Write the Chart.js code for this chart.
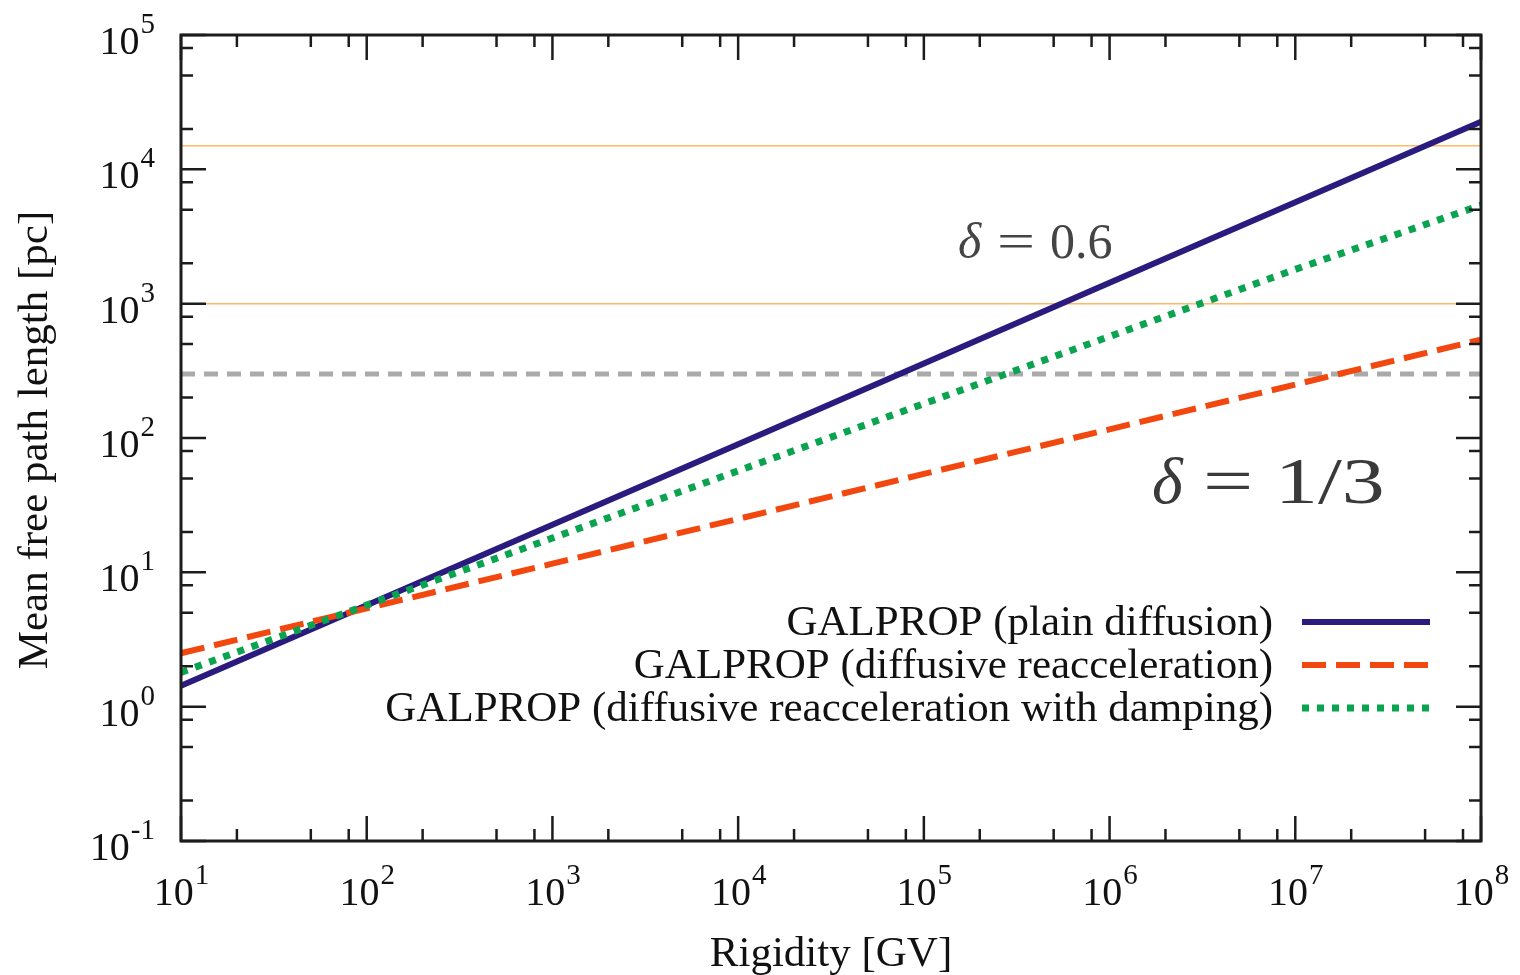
<!DOCTYPE html>
<html>
<head>
<meta charset="utf-8">
<script src="https://cdn.jsdelivr.net/npm/chart.js@4.4.0/dist/chart.umd.min.js"></script>
<style>
  body { margin: 0; background: #fff; }
  canvas { display: block; }
</style>
</head>
<body>
<canvas id="graphic" width="1520" height="975"></canvas>
<script>
// rigidity values [GV] where the curves were read
const rigidity = [1e1, 1e2, 1e3, 1e4, 1e5, 1e6, 1e7, 1e8]

// mean free path [pc]
const plainDiffusion = [1.43, 5.7, 22.6, 90, 358, 1430, 5700, 22600]
const reacceleration = [2.5, 5.4, 11.6, 25, 54, 116, 250, 540]
const reaccDamping = [1.8, 5.7, 18, 57, 180, 570, 1800, 5400]

// horizontal reference levels [pc]
const orangeLevels = [15000, 1000]
const grayLevel = 300

const xExps = [1, 2, 3, 4, 5, 6, 7, 8]
const yExps = [-1, 0, 1, 2, 3, 4, 5]
const minorSteps = [2, 5, 8]

const legendLabels = [
    "GALPROP (plain diffusion)",
    "GALPROP (diffusive reacceleration)",
    "GALPROP (diffusive reacceleration with damping)",
]

let blue = "#2c1b7e"
let red = "#f2480f"
let green = "#0aa34f"
let orange = "#ffb866"
let gray = "#aaaaaa"
let axisColor = "#1c1c1c"

let redDash = [24, 10]
let greenDash = [7, 8]

function pts(ys) {
    return rigidity.map((x, i) => ({ x: x, y: ys[i] }))
}
function flat(v) {
    return [{ x: rigidity[0], y: v }, { x: rigidity[rigidity.length - 1], y: v }]
}

const serif = "'Liberation Serif', 'DejaVu Serif', serif"

// draws text stretched horizontally (mimics the wider TeX glyphs)
function wideText(ctx, txt, x, y, sx) {
    ctx.save()
    ctx.translate(x, y)
    ctx.scale(sx, 1)
    ctx.fillText(txt, 0, 0)
    ctx.restore()
}

const framePlugin = {
    id: "frame",
    afterDraw(chart) {
        const ctx = chart.ctx
        const xs = chart.scales.x
        const ys = chart.scales.y
        const a = chart.chartArea
        ctx.save()
        ctx.strokeStyle = axisColor
        ctx.lineWidth = 3
        ctx.strokeRect(a.left, a.top, a.right - a.left, a.bottom - a.top)

        // ticks on all four sides, pointing inward
        ctx.lineWidth = 2.5
        ctx.beginPath()
        xExps.forEach(function (e, i) {
            let px = xs.getPixelForValue(Math.pow(10, e))
            ctx.moveTo(px, a.bottom); ctx.lineTo(px, a.bottom - 25)
            ctx.moveTo(px, a.top); ctx.lineTo(px, a.top + 25)
            if (i < xExps.length - 1) {
                minorSteps.forEach(function (m) {
                    let mx = xs.getPixelForValue(m * Math.pow(10, e))
                    ctx.moveTo(mx, a.bottom); ctx.lineTo(mx, a.bottom - 12)
                    ctx.moveTo(mx, a.top); ctx.lineTo(mx, a.top + 12)
                })
            }
        })
        yExps.forEach(function (e, i) {
            let py = ys.getPixelForValue(Math.pow(10, e))
            ctx.moveTo(a.left, py); ctx.lineTo(a.left + 25, py)
            ctx.moveTo(a.right, py); ctx.lineTo(a.right - 25, py)
            if (i < yExps.length - 1) {
                minorSteps.forEach(function (m) {
                    let my = ys.getPixelForValue(m * Math.pow(10, e))
                    ctx.moveTo(a.left, my); ctx.lineTo(a.left + 12, my)
                    ctx.moveTo(a.right, my); ctx.lineTo(a.right - 12, my)
                })
            }
        })
        ctx.stroke()

        // tick labels 10^n
        ctx.fillStyle = "#111"
        ctx.textBaseline = "alphabetic"
        const baseFont = "40px " + serif
        const supFont = "29px " + serif
        function labelWidth(e) {
            ctx.font = baseFont
            let w1 = ctx.measureText("10").width
            ctx.font = supFont
            let w2 = ctx.measureText(String(e)).width
            return [w1, w2]
        }
        function drawLabel(e, left, base) {
            let w = labelWidth(e)
            ctx.font = baseFont
            ctx.fillText("10", left, base)
            ctx.font = supFont
            ctx.fillText(String(e), left + w[0] + 1, base - 21)
        }
        xExps.forEach(function (e) {
            let px = xs.getPixelForValue(Math.pow(10, e))
            let w = labelWidth(e)
            drawLabel(e, px - (w[0] + w[1]) / 2, a.bottom + 64)
        })
        yExps.forEach(function (e) {
            let py = ys.getPixelForValue(Math.pow(10, e))
            let w = labelWidth(e)
            drawLabel(e, 155 - (w[0] + w[1] + 1), py + 19)
        })

        // axis titles
        ctx.font = "43px " + serif
        ctx.textAlign = "center"
        ctx.fillText("Rigidity [GV]", (a.left + a.right) / 2, 966)
        ctx.save()
        ctx.translate(47, 440)
        ctx.rotate(-Math.PI / 2)
        ctx.fillText("Mean free path length [pc]", 0, 0)
        ctx.restore()

        // legend
        const rows = [
            { c: blue, d: [], w: 6 },
            { c: red, d: redDash, w: 6 },
            { c: green, d: greenDash, w: 7 },
        ]
        ctx.font = "43px " + serif
        ctx.textAlign = "right"
        rows.forEach(function (r, i) {
            let y = 622 + i * 43
            ctx.fillStyle = "#111"
            ctx.fillText(legendLabels[i], 1273, y + 13)
            ctx.strokeStyle = r.c
            ctx.lineWidth = r.w
            ctx.lineCap = "butt"
            ctx.setLineDash(r.d)
            ctx.beginPath()
            ctx.moveTo(1302, y)
            ctx.lineTo(1430, y)
            ctx.stroke()
        })
        ctx.setLineDash([])

        // slope annotations
        ctx.textAlign = "left"
        ctx.fillStyle = "#444"
        ctx.font = "italic 50px " + serif
        ctx.fillText("\u03b4", 958, 258)
        ctx.font = "50px " + serif
        wideText(ctx, "=", 997, 258, 1.35)
        wideText(ctx, "0.6", 1050, 258, 1.0)

        ctx.fillStyle = "#3a3a3a"
        ctx.font = "italic 66px " + serif
        ctx.fillText("\u03b4", 1152, 503)
        ctx.font = "66px " + serif
        wideText(ctx, "=", 1203, 503, 1.35)
        wideText(ctx, "1/3", 1275, 503, 1.3)
        ctx.restore()
    },
}

const chartID = document.getElementById("graphic").getContext("2d")
let graphic = new Chart(chartID, {
    type: "line",
    data: {
        datasets: [
            { data: flat(orangeLevels[0]), borderColor: orange, borderWidth: 1.5, order: 10 },
            { data: flat(orangeLevels[1]), borderColor: orange, borderWidth: 1.5, order: 9 },
            { data: flat(grayLevel), borderColor: gray, borderWidth: 5, borderDash: [14, 9], order: 8 },
            { label: legendLabels[0], data: pts(plainDiffusion), borderColor: blue, borderWidth: 6, order: 3 },
            { label: legendLabels[1], data: pts(reacceleration), borderColor: red, borderWidth: 6, borderDash: redDash, order: 2 },
            { label: legendLabels[2], data: pts(reaccDamping), borderColor: green, borderWidth: 7, borderDash: greenDash, order: 1 },
        ],
    },
    options: {
        responsive: false,
        animation: false,
        devicePixelRatio: 1,
        layout: { padding: { left: 181, right: 39, top: 35, bottom: 134 } },
        elements: { point: { radius: 0 }, line: { tension: 0, borderCapStyle: "butt" } },
        plugins: { legend: { display: false }, tooltip: { enabled: false } },
        scales: {
            x: { type: "logarithmic", min: 10, max: 1e8, display: false },
            y: { type: "logarithmic", min: 0.1, max: 1e5, display: false },
        },
    },
    plugins: [framePlugin],
})
</script>
</body>
</html>
